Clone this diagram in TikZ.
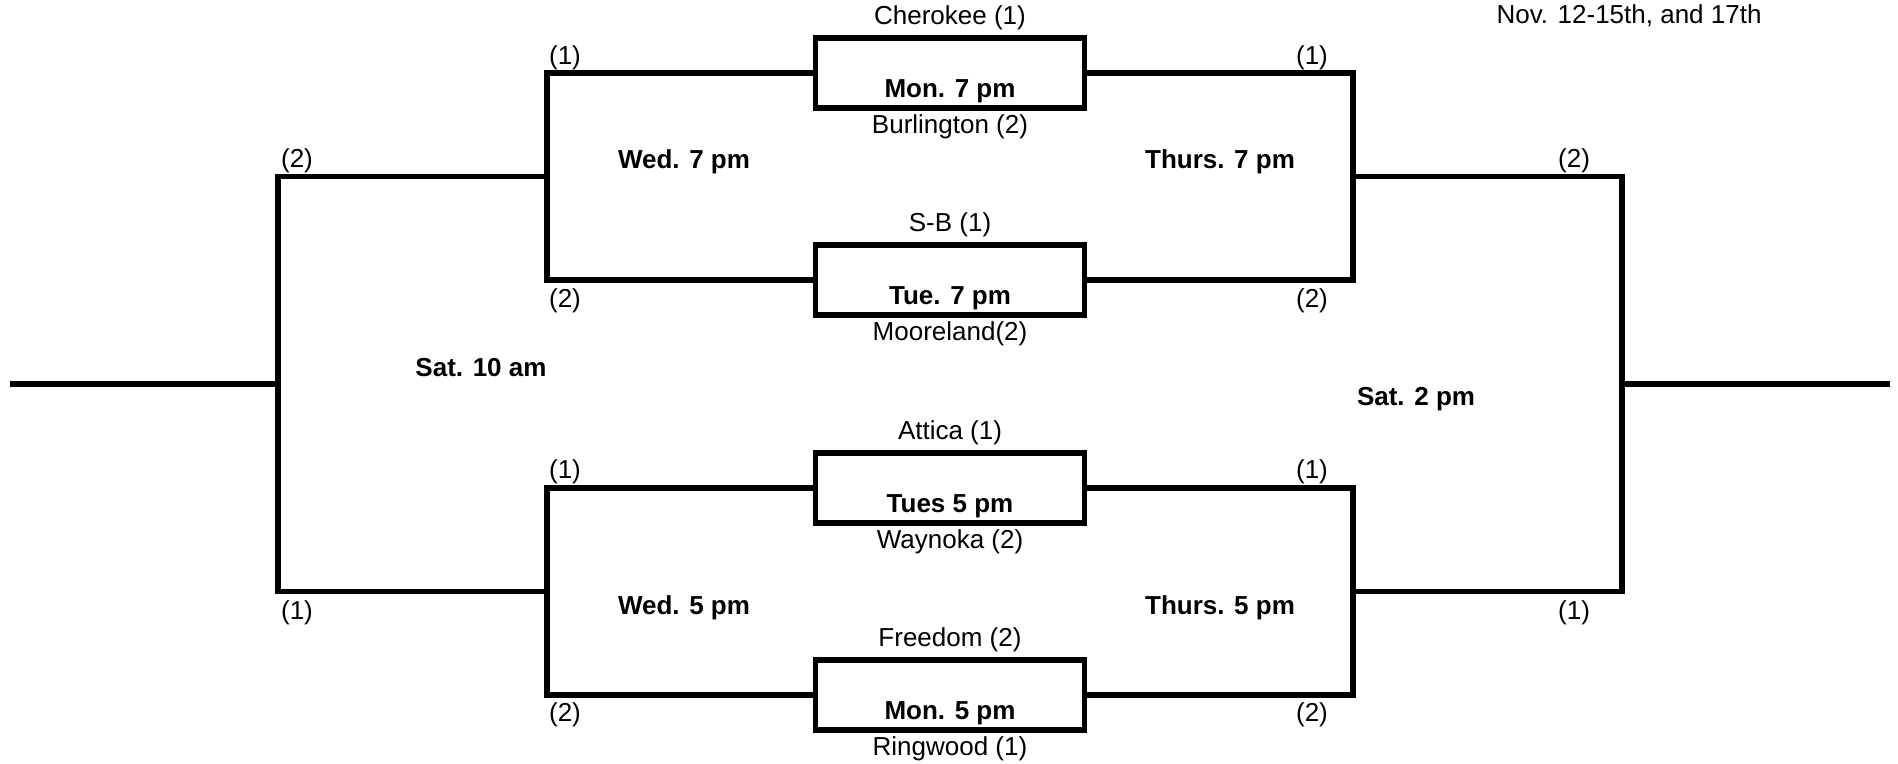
\documentclass[tikz,border=0pt]{standalone}
\usepackage{fontspec}
\setmainfont{Liberation Sans}
\usetikzlibrary{calc}
\def\bracketfont{\fontsize{13}{15.6}\selectfont}
\tikzset{
  bracket/.style={line width=2.9pt},
  team/.style={inner sep=0pt, text height=0.73em, text depth=0.21em, yshift=-1.8pt},
  slot/.style={team, font=\bracketfont\bfseries},
}
\def\gamebox(#1,#2,#3,#4,#5){
  \node[draw, line width=2.8pt, minimum width=134.5pt, minimum height=35pt, inner sep=0pt] (#1) at (950,#2) {};
  \node[team] (#1_top) at (950,#2-57) {#3};
  \node[slot] (#1_time) at (950,#2+16) {#4};
  \node[team] (#1_bot) at (950,#2+52) {#5};
}

\begin{document}
\begin{tikzpicture}[x=0.5pt, y=-0.5pt, font=\bracketfont]
\useasboundingbox (0,0) rectangle (1898,764);
\gamebox(mon7,73,{Cherokee (1)},{Mon. 7 pm},{Burlington (2)})
\gamebox(tue7,280,{S-B (1)},{Tue. 7 pm},{Mooreland(2)})
\gamebox(tue5,488,{Attica (1)},{Tues 5 pm},{Waynoka (2)})
\gamebox(mon5,695,{Freedom (2)},{Mon. 5 pm},{Ringwood (1)})
\coordinate (w7) at (547,176.5);
\coordinate (w5) at (547,591.5);
\coordinate (t7) at (1353,176.5);
\coordinate (t5) at (1353,591.5);
\coordinate (s10) at (278,384);
\coordinate (s2) at (1622,384);
\coordinate (lend) at (10,384);
\coordinate (rend) at (1890,384);
% left half
\draw[bracket] (mon7.west) -| (w7) |- (tue7.west);
\draw[bracket] (tue5.west) -| (w5) |- (mon5.west);
\draw[bracket] (w7) -| (s10) |- (w5);
\draw[bracket] (lend) -- (s10);
% right half
\draw[bracket] (mon7.east) -| (t7) |- (tue7.east);
\draw[bracket] (tue5.east) -| (t5) |- (mon5.east);
\draw[bracket] (t7) -| (s2) |- (t5);
\draw[bracket] (s2) -- (rend);
% seeds
\node[team] (sl1) at (565,56) {(1)};
\node[team] (sl2) at (565,299) {(2)};
\node[team] (sl3) at (565,470) {(1)};
\node[team] (sl4) at (565,713) {(2)};
\node[team] (sr1) at (1312,56) {(1)};
\node[team] (sr2) at (1312,299) {(2)};
\node[team] (sr3) at (1312,470) {(1)};
\node[team] (sr4) at (1312,713) {(2)};
\node[team] (fl1) at (297,159) {(2)};
\node[team] (fl2) at (297,611) {(1)};
\node[team] (fr1) at (1574,159) {(2)};
\node[team] (fr2) at (1574,611) {(1)};
% game times
\node[slot] (wed7) at (684,160) {Wed. 7 pm};
\node[slot] (thu7) at (1220,160) {Thurs. 7 pm};
\node[slot] (wed5) at (684,606) {Wed. 5 pm};
\node[slot] (thu5) at (1220,606) {Thurs. 5 pm};
\node[slot] (sat10) at (481,368) {Sat. 10 am};
\node[slot] (sat2) at (1416,397) {Sat. 2 pm};
\node[team] (dates) at (1629,14.5) {Nov. 12-15th, and 17th};
\end{tikzpicture}
\end{document}
